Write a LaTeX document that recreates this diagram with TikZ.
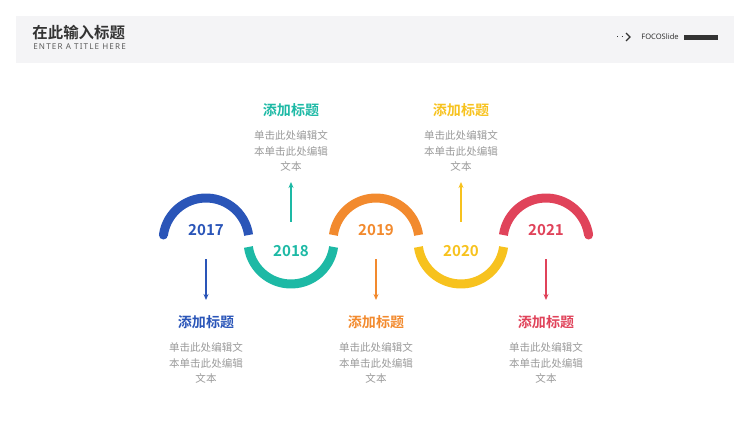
\documentclass[tikz,border=0pt]{standalone}
\usepackage{fontspec}
\setmainfont{Noto Sans CJK SC}[BoldFont={Noto Sans CJK SC Bold}]
\newfontfamily\latinfont{Noto Sans}[LetterSpace=14]
\newfontfamily\brandfont{Noto Sans}
\usetikzlibrary{arrows.meta}
\definecolor{band}{HTML}{F4F4F6}
\definecolor{ink}{HTML}{333333}
\definecolor{soft}{HTML}{9A9A9A}
\definecolor{cblue}{HTML}{2A55B8}
\definecolor{cteal}{HTML}{1DB9A5}
\definecolor{corange}{HTML}{F28A2E}
\definecolor{cyellow}{HTML}{F7C21E}
\definecolor{cred}{HTML}{E0435A}
\tikzset{
  ring/.style={line width=9*0.02cm},
  yearlbl/.style={font=\bfseries\fontsize{8.6}{10}\selectfont},
  itemtitle/.style={font=\bfseries\fontsize{8}{10}\selectfont},
  itembody/.style={font=\fontsize{6}{9.07}\selectfont,text=soft,align=center},
  pointer/.style={line width=1.2*0.02cm,-{Stealth[length=6*0.02cm,width=5*0.02cm]}}
}
\begin{document}
\begin{tikzpicture}[x=0.02cm,y=0.02cm]
\useasboundingbox (0,0) rectangle (750,-422);
% header band
\fill[band] (16,-16) rectangle (734,-63);
\node[anchor=west,inner sep=0,text=ink,font=\bfseries\fontsize{8.8}{10}\selectfont] (title) at (32,-33) {在此输入标题};
\node[anchor=west,inner sep=0,text=ink!80,font=\latinfont\fontsize{4.6}{6}\selectfont] (subtitle) at (33,-46.5) {ENTER A TITLE HERE};
\draw[ink,line width=0.02cm,dotted] (617,-37)--(626,-37);
\draw[ink,line width=1.2*0.02cm] (626,-33)--(630,-37)--(626,-41);
\node[anchor=west,inner sep=0,text=ink,font=\brandfont\fontsize{4.3}{6}\selectfont] (brand) at (641,-37) {FOCOSlide};
\fill[ink] (684,-35) rectangle (718,-40.5);
% timeline
\foreach \i/\cx/\col/\yr/\up in {1/206/cblue/2017/1,2/291/cteal/2018/0,3/376/corange/2019/1,4/461/cyellow/2020/0,5/546/cred/2021/1}{
  \coordinate (c\i) at (\cx,-241);
  \ifnum\up=1
    \draw[ring,\col] ([shift={(172:43)}]c\i) arc (172:8:43);
    \node[yearlbl,text=\col] (y\i) at (\cx,-230) {\yr};
    \coordinate (s\i) at (\cx,-259);
    \coordinate (e\i) at (\cx,-300);
    \draw[pointer,\col] (s\i) -- (e\i);
    \node[itemtitle,text=\col] (t\i) at (\cx,-322) {添加标题};
    \node[itembody] (b\i) at (\cx,-363) {单击此处编辑文\\本单击此处编辑\\文本};
  \else
    \draw[ring,\col] ([shift={(188:43)}]c\i) arc (188:352:43);
    \node[yearlbl,text=\col] (y\i) at (\cx,-251) {\yr};
    \coordinate (s\i) at (\cx,-222);
    \coordinate (e\i) at (\cx,-182);
    \draw[pointer,\col] (s\i) -- (e\i);
    \node[itemtitle,text=\col] (t\i) at (\cx,-110) {添加标题};
    \node[itembody] (b\i) at (\cx,-151) {单击此处编辑文\\本单击此处编辑\\文本};
  \fi
}
% rounded outer ends
\fill[cblue] ([shift={(172:43)}]c1) circle (4.5);
\fill[cred] ([shift={(8:43)}]c5) circle (4.5);
\end{tikzpicture}
\end{document}
